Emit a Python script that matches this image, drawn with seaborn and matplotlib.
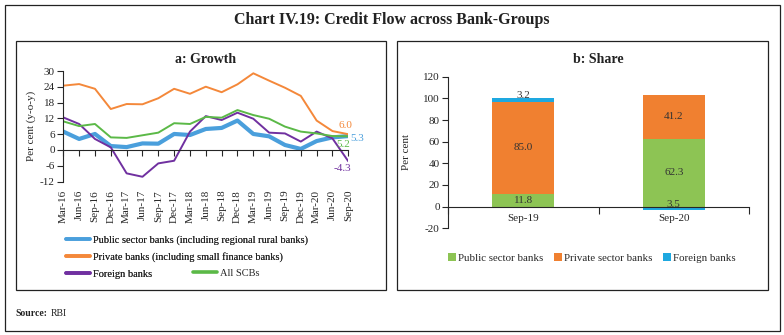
import numpy as np
import pandas as pd
import matplotlib
matplotlib.use("Agg")
import matplotlib.pyplot as plt
import seaborn as sns
from matplotlib.patches import Rectangle, Patch
from matplotlib.lines import Line2D

# ---------------- data ----------------
quarters = ["Mar-16", "Jun-16", "Sep-16", "Dec-16", "Mar-17", "Jun-17", "Sep-17", "Dec-17",
            "Mar-18", "Jun-18", "Sep-18", "Dec-18", "Mar-19", "Jun-19", "Sep-19", "Dec-19",
            "Mar-20", "Jun-20", "Sep-20"]
public_growth = [7.0, 4.2, 6.1, 1.5, 1.1, 2.5, 2.4, 6.1, 5.7, 8.0, 8.4, 11.2, 6.1, 5.2, 1.9, 0.4, 3.4, 4.8, 5.3]
private_growth = [24.5, 25.1, 23.3, 15.6, 17.5, 17.4, 19.7, 23.3, 21.4, 24.1, 22.0, 25.0, 29.2, 26.4, 23.7, 20.6, 11.2, 7.2, 6.0]
foreign_growth = [12.4, 9.9, 4.2, 1.0, -8.9, -10.2, -5.1, -4.1, 7.0, 12.9, 11.4, 14.2, 11.9, 6.6, 6.3, 3.2, 7.0, 4.4, -4.3]
scb_growth = [10.9, 9.1, 9.9, 4.8, 4.6, 5.6, 6.6, 10.2, 9.9, 12.6, 12.3, 15.2, 13.3, 11.9, 8.9, 7.0, 6.3, 5.3, 5.2]
growth_names = ["Public sector banks (including regional rural banks)",
                "Private banks (including small finance banks)",
                "Foreign banks", "All SCBs"]
growth_yticks = [-12, -6, 0, 6, 12, 18, 24, 30]

share_periods = ["Sep-19", "Sep-20"]
public_share = [11.8, 62.3]
private_share = [85.0, 41.2]
foreign_share = [3.2, -3.5]
share_names = ["Public sector banks", "Private sector banks", "Foreign banks"]
share_yticks = [-20, 0, 20, 40, 60, 80, 100, 120]

# ---------------- style ----------------
sns.set_style("white")
FONT = ["Liberation Serif", "DejaVu Serif"]
plt.rcParams["font.family"] = FONT
plt.rcParams["axes.linewidth"] = 0.8

W, H = 784, 335
fig = plt.figure(figsize=(W / 100, H / 100), dpi=100)


def fx(px):
    return px / W


def fy(py):
    return 1 - py / H


# frames
fig.patches.append(Rectangle((fx(4.5), fy(330.5)), fx(780) - fx(4.5), fy(5) - fy(330.5),
                             transform=fig.transFigure, fill=False, lw=0.9, ec="#222222"))
fig.patches.append(Rectangle((fx(15.5), fy(290)), fx(385.7) - fx(15.5), fy(40.7) - fy(290),
                             transform=fig.transFigure, fill=False, lw=0.9, ec="#222222"))
fig.patches.append(Rectangle((fx(396.5), fy(290)), fx(768.3) - fx(396.5), fy(40.7) - fy(290),
                             transform=fig.transFigure, fill=False, lw=0.9, ec="#222222"))

fig.text(fx(392), fy(20), "Chart IV.19: Credit Flow across Bank-Groups", ha="center", va="center",
         fontsize=11.5, fontweight="bold", color="#222222")
fig.text(fx(15), fy(313), "Source:", ha="left", va="center", fontsize=7, fontweight="bold", color="#222222")
fig.text(fx(51), fy(313), "RBI", ha="left", va="center", fontsize=7, color="#222222")

# ---------------- panel a: Growth ----------------
line_colors = ["#4A9FDC", "#F4883A", "#7030A0", "#5BB947"]
line_widths = [3.0, 1.4, 1.4, 1.4]
series = [public_growth, private_growth, foreign_growth, scb_growth]

ax1 = fig.add_axes([fx(63.3), fy(181.5), fx(348.3) - fx(63.3), fy(71.2) - fy(181.5)])
idx = np.arange(len(quarters))
for name, vals, c, lw in zip(growth_names, series, line_colors, line_widths):
    df = pd.DataFrame({"q": idx, "v": vals})
    sns.lineplot(data=df, x="q", y="v", ax=ax1, color=c, linewidth=lw, sort=False)

ax1.set_xlim(0, len(quarters) - 1)
ax1.set_ylim(growth_yticks[0], growth_yticks[-1])
ax1.set_yticks(growth_yticks)
ax1.set_yticklabels([str(t) for t in growth_yticks])
ax1.set_xticks(idx)
ax1.spines["top"].set_visible(False)
ax1.spines["right"].set_visible(False)
ax1.spines["bottom"].set_position(("data", 0))
ax1.tick_params(axis="x", direction="out", length=4, width=0.8, labelbottom=False, bottom=True)
ax1.tick_params(axis="y", direction="out", length=4, width=0.8, labelsize=8, pad=2, left=True)
ax1.set_xlabel("")
ax1.set_ylabel("Per cent (y-o-y)", fontsize=8, labelpad=3)
for i, q in enumerate(quarters):
    ax1.annotate(q, xy=(i, growth_yticks[0]), xytext=(0, -6), textcoords="offset points",
                 rotation=90, ha="center", va="top", fontsize=8, annotation_clip=False)
ax1.set_title("a: Growth", fontsize=10, fontweight="bold", pad=6, color="#222222")

# end labels
last = len(quarters) - 1
offsets = [(1.5, -2), (-2, 6.5), (-4.5, -5.5), (-3.5, -6)]
aligns = ["left", "center", "center", "center"]
for vals, c, off, ha in zip(series, line_colors, offsets, aligns):
    ax1.annotate(f"{vals[-1]:.1f}", xy=(last, vals[-1]), xytext=off, textcoords="offset points",
                 ha=ha, va="center", fontsize=8, color=c, annotation_clip=False)

handles = [Line2D([], [], color=c, lw=2.6) for c in line_colors]
leg1 = fig.legend(handles[:3], growth_names[:3], loc="upper left", bbox_to_anchor=(fx(66), fy(235)),
                  bbox_transform=fig.transFigure, frameon=False, fontsize=7.5, handlelength=2.3,
                  handletextpad=0.3, labelspacing=0.72, borderpad=0, borderaxespad=0)
leg2 = fig.legend(handles[3:], growth_names[3:], loc="center left", bbox_to_anchor=(fx(193), fy(273)),
                  bbox_transform=fig.transFigure, frameon=False, fontsize=7.5, handlelength=2.3,
                  handletextpad=0.3, borderpad=0, borderaxespad=0)
fig.add_artist(leg1)

# ---------------- panel b: Share ----------------
bar_colors = ["#8DC454", "#F08030", "#1EA8E0"]
ax2 = fig.add_axes([fx(448), fy(228.3), fx(749) - fx(448), fy(76.7) - fy(228.3)])
shares = np.array([public_share, private_share, foreign_share])
pos = np.clip(shares, 0, None)
neg = np.clip(shares, None, 0)
cum_pos = np.cumsum(pos, axis=0)
cum_neg = np.cumsum(neg, axis=0)
for i in reversed(range(len(share_names))):
    hp = np.where(pos[i] > 0, cum_pos[i], 0)
    hn = np.where(neg[i] < 0, cum_neg[i], 0)
    sns.barplot(x=share_periods, y=hp, color=bar_colors[i], saturation=1, width=0.41,
                errorbar=None, ax=ax2, linewidth=0)
    sns.barplot(x=share_periods, y=hn, color=bar_colors[i], saturation=1, width=0.41,
                errorbar=None, ax=ax2, linewidth=0)

for i in range(len(share_names)):
    for j in range(len(share_periods)):
        v = shares[i, j]
        if v > 0:
            centre = cum_pos[i, j] - v / 2
        else:
            centre = cum_neg[i, j] - v / 2
        dy = 3 if abs(v) < 5 else 0
        ax2.annotate(f"{abs(v):.1f}", xy=(j, centre), xytext=(0, dy), textcoords="offset points",
                     ha="center", va="center", fontsize=8, color="#333333")

ax2.set_xlim(-0.5, len(share_periods) - 0.5)
ax2.set_ylim(share_yticks[0], share_yticks[-1])
ax2.set_yticks(share_yticks)
ax2.set_yticklabels([str(t) for t in share_yticks])
ax2.set_xticks(range(len(share_periods)))
ax2.set_xticklabels(share_periods)
ax2.set_xticks(np.arange(-0.5, len(share_periods)), minor=True)
ax2.spines["top"].set_visible(False)
ax2.spines["right"].set_visible(False)
ax2.spines["bottom"].set_position(("data", 0))
ax2.tick_params(axis="x", which="major", length=0, labelsize=8, pad=5)
ax2.tick_params(axis="x", which="minor", direction="out", length=5, width=0.8, bottom=True)
ax2.tick_params(axis="y", direction="out", length=4, width=0.8, labelsize=8, pad=2, left=True)
ax2.set_xlabel("")
ax2.set_ylabel("Per cent", fontsize=8, labelpad=9)
ax2.set_title("b: Share", fontsize=10, fontweight="bold", pad=10, color="#222222")

phandles = [Patch(facecolor=c, edgecolor="none") for c in bar_colors]
fig.legend(phandles, share_names, loc="center", bbox_to_anchor=(fx(592), fy(258)),
           bbox_transform=fig.transFigure, frameon=False, fontsize=7.8, ncol=3,
           handlelength=0.7, handleheight=0.7, handletextpad=0.2, columnspacing=1.0,
           borderpad=0, borderaxespad=0)

fig.savefig("out.png", dpi=100)
